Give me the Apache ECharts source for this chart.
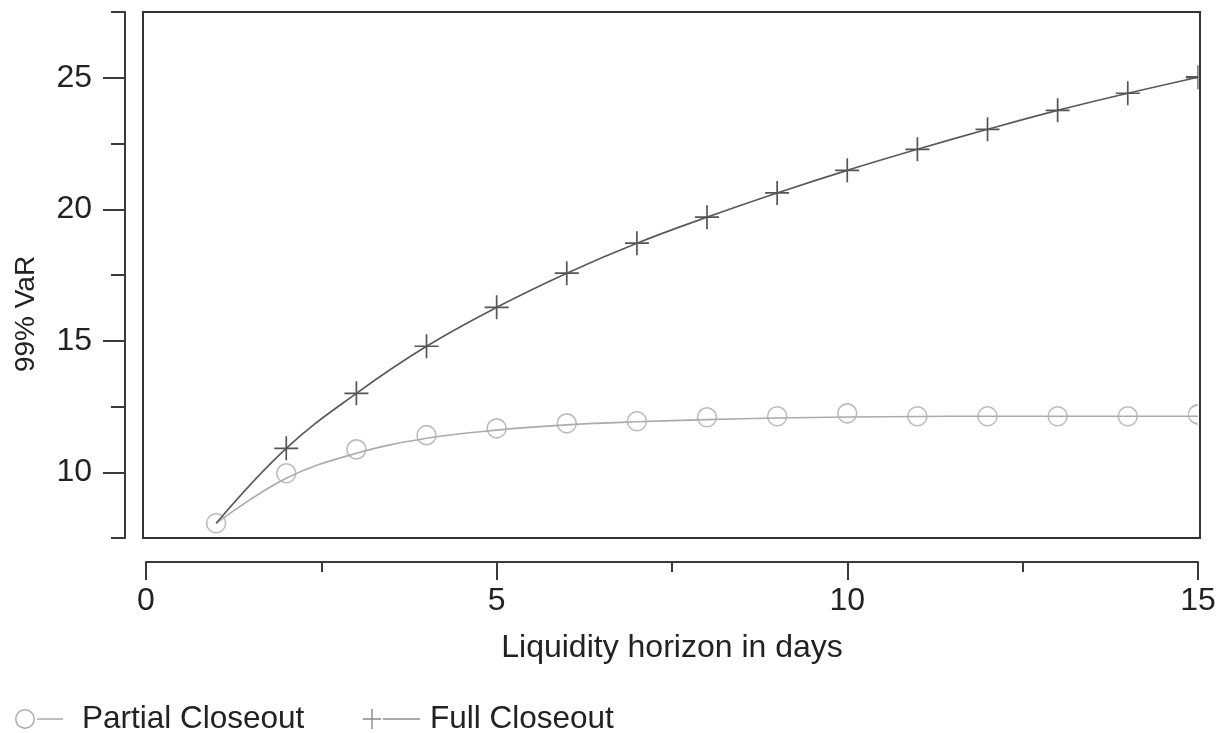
<!DOCTYPE html>
<html>
<head>
<meta charset="utf-8">
<script src="https://cdn.jsdelivr.net/npm/echarts@6/dist/echarts.min.js"></script>
<style>
html,body{margin:0;padding:0;background:#fff;}
#chart{width:1226px;height:733px;}
</style>
</head>
<body>
<div id="chart"></div>
<script>
// ---- data ----
const days = [1, 2, 3, 4, 5, 6, 7, 8, 9, 10, 11, 12, 13, 14, 15];
const partialCurve = [8.06, 9.77, 10.72, 11.29, 11.60, 11.80, 11.92, 12.00, 12.06, 12.10, 12.12, 12.13, 12.13, 12.13, 12.13];
const partialMarks = [8.06, 9.96, 10.87, 11.41, 11.67, 11.86, 11.94, 12.09, 12.13, 12.24, 12.13, 12.13, 12.13, 12.13, 12.20];
const fullValues = [8.06, 10.91, 13.00, 14.79, 16.27, 17.57, 18.71, 19.70, 20.62, 21.48, 22.28, 23.04, 23.76, 24.41, 25.02];
const xMajorTicks = [0, 5, 10, 15];
const xMinorTicks = [2.5, 7.5, 12.5];
const yMajorTicks = [10, 15, 20, 25];
const yMinorTicks = [7.5, 12.5, 17.5, 22.5, 27.5];
const seriesNames = ['Partial Closeout', 'Full Closeout'];
const xTitle = 'Liquidity horizon in days';
const yTitle = '99% VaR';

const FONT = 'Liberation Sans, Arial, Helvetica, sans-serif';
const TXT = '#222';
const AX = '#3a3a3a';

const ringIcon = 'path://M0,10 A10,10 0 1,1 20,10 A10,10 0 1,1 0,10 Z M1.5,10 A8.5,8.5 0 1,0 18.5,10 A8.5,8.5 0 1,0 1.5,10 Z M22,9.3 L48,9.3 L48,10.7 L22,10.7 Z';
const plusIcon = 'path://M8.3,0 L9.7,0 L9.7,9.3 L18,9.3 L18,10.7 L9.7,10.7 L9.7,20 L8.3,20 L8.3,10.7 L0,10.7 L0,9.3 L8.3,9.3 Z M20,9.3 L57,9.3 L57,10.7 L20,10.7 Z';
const plusSymbol = 'path://M12,0 L12,24 M0,12 L24,12';
// left halves, used where the frame cuts a marker at the right edge
const halfPlus = 'path://M12,0 L12,24 M0,12 L12,12';
const halfRing = 'path://M10,0 A10,10 0 0,0 10,20';

const lastIdx = days.length - 1;
const partialMarkData = days.map((d, i) => i === lastIdx
  ? {value: [d, partialMarks[i]], symbol: halfRing, symbolSize: [9.5, 19], symbolOffset: [-4.75, 0]}
  : [d, partialMarks[i]]);
const partialCurveData = days.map((d, i) => [d, partialCurve[i]]);
const fullData = days.map((d, i) => {
  if (i === 0) return {value: [d, fullValues[i]], symbol: 'none'};
  if (i === lastIdx) return {value: [d, fullValues[i]], symbol: halfPlus, symbolSize: [12, 24], symbolOffset: [-6, 0]};
  return [d, fullValues[i]];
});

const chart = echarts.init(document.getElementById('chart'), null, {renderer: 'canvas'});

const hiddenX = (g) => ({gridIndex: g, type: 'value', min: 0, max: 1, show: false});
const hiddenY = (g) => ({gridIndex: g, type: 'value', min: 0, max: 1, show: false});

const option = {
  animation: false,
  backgroundColor: '#fff',
  textStyle: {fontFamily: FONT},
  grid: [
    // 0: plotting frame
    {left: 143, right: 26, top: 12, bottom: 195, show: true, borderColor: '#333', borderWidth: 2, backgroundColor: 'transparent'},
    // 1: detached x axis
    {left: 146, right: 28, top: 561, height: 1, show: false},
    // 2: detached y axis
    {left: 125, width: 1, top: 12, bottom: 195, show: false}
  ],
  xAxis: [
    {gridIndex: 0, type: 'value', min: -0.043, max: 15.03, show: false},
    {gridIndex: 1, type: 'value', min: 0, max: 15, position: 'bottom',
     axisLine: {show: true, lineStyle: {color: AX, width: 2}},
     axisTick: {show: true, customValues: xMajorTicks, length: 18, lineStyle: {color: AX, width: 2}},
     axisLabel: {show: true, customValues: xMajorTicks, margin: 23, fontSize: 32, color: TXT, fontFamily: FONT},
     splitLine: {show: false},
     name: xTitle, nameLocation: 'middle', nameGap: 70,
     nameTextStyle: {fontSize: 32, color: TXT, fontFamily: FONT}},
    {gridIndex: 1, type: 'value', min: 0, max: 15, position: 'bottom',
     axisLine: {show: false},
     axisTick: {show: true, customValues: xMinorTicks, length: 10, lineStyle: {color: AX, width: 2}},
     axisLabel: {show: false}, splitLine: {show: false}},
    hiddenX(2)
  ],
  yAxis: [
    {gridIndex: 0, type: 'value', min: 7.5, max: 27.5, show: false},
    hiddenY(1),
    {gridIndex: 2, type: 'value', min: 7.5, max: 27.5, position: 'left',
     axisLine: {show: true, lineStyle: {color: AX, width: 2}},
     axisTick: {show: true, customValues: yMajorTicks, length: 22, lineStyle: {color: AX, width: 2}},
     axisLabel: {show: true, customValues: yMajorTicks, margin: 33, fontSize: 32, color: TXT, fontFamily: FONT},
     splitLine: {show: false},
     name: yTitle, nameLocation: 'middle', nameGap: 85, nameRotate: 90,
     nameTextStyle: {fontSize: 28, color: TXT, fontFamily: FONT, padding: [0, 78, 0, 0]}},
    {gridIndex: 2, type: 'value', min: 7.5, max: 27.5, position: 'left',
     axisLine: {show: false},
     axisTick: {show: true, customValues: yMinorTicks, length: 14, lineStyle: {color: AX, width: 2}},
     axisLabel: {show: false}, splitLine: {show: false}}
  ],
  legend: [
    {left: 15, top: 703, padding: 0, itemWidth: 48, itemHeight: 20,
     selectedMode: false,
     data: [{name: seriesNames[0], icon: ringIcon, itemStyle: {color: '#ababab', borderWidth: 0}}],
     textStyle: {fontSize: 31.5, color: TXT, fontFamily: FONT, padding: [0, 0, 0, 14]}},
    {left: 363, top: 703, padding: 0, itemWidth: 57, itemHeight: 20,
     selectedMode: false,
     data: [{name: seriesNames[1], icon: plusIcon, itemStyle: {color: '#8a8a8a', borderWidth: 0}}],
     textStyle: {fontSize: 31.5, color: TXT, fontFamily: FONT, padding: [0, 0, 0, 5]}}
  ],
  series: [
    {name: seriesNames[0], type: 'line', xAxisIndex: 0, yAxisIndex: 0,
     data: partialCurveData, smooth: 0.4, showSymbol: false, symbol: 'none',
     lineStyle: {color: '#ababab', width: 1.6}, itemStyle: {color: '#ababab'},
     emphasis: {disabled: true}, z: 2},
    {name: seriesNames[0], type: 'scatter', xAxisIndex: 0, yAxisIndex: 0,
     data: partialMarkData, symbol: 'circle', symbolSize: 19,
     itemStyle: {color: 'rgba(0,0,0,0)', borderColor: '#ababab', borderWidth: 1.6},
     emphasis: {disabled: true}, z: 3},
    {name: seriesNames[1], type: 'line', xAxisIndex: 0, yAxisIndex: 0,
     data: fullData, smooth: 0.4, showSymbol: true, showAllSymbol: true,
     symbol: plusSymbol, symbolSize: 24,
     lineStyle: {color: '#5a5a5a', width: 1.7},
     itemStyle: {color: 'rgba(0,0,0,0)', borderColor: '#555', borderWidth: 1.7},
     emphasis: {disabled: true}, z: 4}
  ]
};
chart.setOption(option);
</script>
</body>
</html>
